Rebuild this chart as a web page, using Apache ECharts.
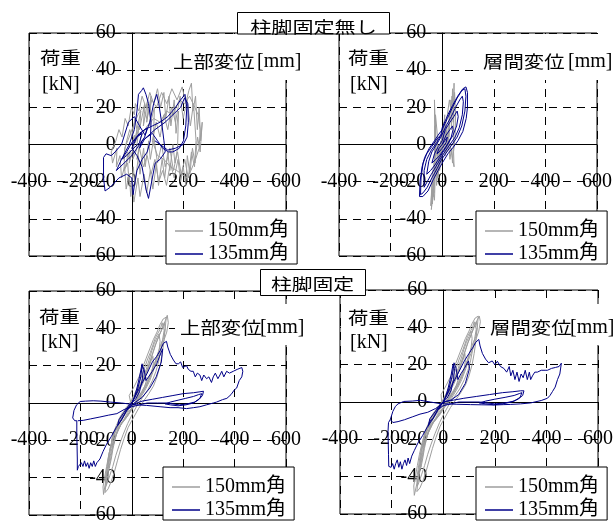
<!DOCTYPE html>
<html><head><meta charset="utf-8">
<script src="https://cdn.jsdelivr.net/npm/echarts@6/dist/echarts.min.js"></script>
<style>html,body{margin:0;padding:0;background:#fff}#c{width:613px;height:521px}</style>
</head><body><div id="c"></div>
<script>
// ---- data ----
const xMin = -400, xMax = 600, xStep = 200;
const yMin = -60, yMax = 60, yStep = 20;
const seriesNames = ['150mm角', '135mm角'];
const panelTitles = ['柱脚固定無し', '柱脚固定'];
const xAxisNames = ['上部変位', '層間変位'];
const xUnit = '[mm]';
const yAxisName = '荷重';
const yUnit = '[kN]';

// top-left: 柱脚固定無し / 上部変位
const p1Gray = [[0,0],[10,5],[6,-2],[20,8],[14,1],[28,10],[18,-3],[4,-8],[8,-1],[-10,-10],[-6,-3],[-24,-12],[-14,-4],[-34,-8],
[-20,2],[-8,8],[0,4],[12,14],[20,8],[35,18],[30,8],[50,22],[45,10],[62,24],[58,12],[75,26],[70,10],[88,20],[84,2],[72,-8],[66,2],[52,-12],[46,-2],[32,-16],[26,-6],[12,-22],[6,-12],[-4,-28],[-10,-16],[-22,-24],[-28,-12],[-40,-18],[-46,-6],[-60,-12],[-58,-2],[-75,-10],[-80,-4],[-62,2],[-50,8],[-38,4],[-26,14],[-14,10],[-2,20],[10,16],[14,22],
[28,18],[40,26],[55,20],[70,28],[85,22],[100,30],[112,20],[125,28],[132,14],[145,26],[152,10],[165,24],[172,6],[182,18],[178,-2],[168,-10],[160,0],[148,-14],[140,-4],[128,-18],[118,-8],[104,-22],[96,-10],[82,-24],[72,-14],[58,-26],[48,-16],[32,-28],[24,-18],[8,-31],[2,-20],[-10,-22],[-16,-10],[-30,-14],[-28,-2],[-10,4],[6,10],
[24,16],[42,20],[58,14],[78,24],[96,20],[116,28],[136,22],[156,30],[176,24],[196,31],[210,22],[222,29],[232,33],[238,18],[248,26],[255,8],[262,20],[268,2],[274,12],[266,-4],[256,4],[246,-10],[236,-2],[226,-16],[216,-6],[210,-22],[200,-12],[190,-20],[180,-8],[165,-18],[150,-10],[135,-22],[120,-14],[105,-20],[90,-8],[75,-16],[60,-6],[45,-12],[30,-2],[20,-8],[35,4],
[60,10],[85,14],[110,12],[135,18],[160,16],[185,24],[205,22],[225,26],[245,20],[258,16],[266,8],[262,-2],[248,-8],[230,-14],[212,-18],[195,-16],[175,-14],[150,-12],[125,-8],[100,-6],
[80,2],[95,12],[110,4],[125,16],[140,8],[155,20],[170,12],[188,26],[200,14],[215,24],[228,10],[240,22],[250,2],[244,-12],[232,-4],[220,-18],[206,-8],[192,-16],[178,-4],[162,-14],[148,-2],[130,-12],[116,0],[100,-10],[86,4]];
const p1Navy = [[0,0],[20,4],[40,6],[30,1],[0,-3],[-20,-6],[-40,-8],[-20,-4],[0,1],[30,6],[60,9],[50,4],[20,-2],[0,-6],[-30,-10],[-60,-14],[-40,-8],[-10,0],[10,8],[20,18],[26,27],[38,29],[45,30.5],[55,27],[65,22],[75,12],[72,2],[60,-4],[40,-8],[20,-14],[10,-22],[5,-27],[0,-18],[-20,-16],[-50,-18],[-84,-23],[-104,-25],[-110,-18],[-110,-7],[-100,-5],[-80,-6],[-65,-4],[-40,0],[-13,12],[10,15],[30,10],[52,5],[70,12],[85,22],[97,27],[105,22],[117,11],[125,2],[130,-4],[110,-8],[91,-10],[80,-18],[65,-29],[55,-24],[40,-12],[20,-6],[0,-2],[20,4],[50,8],[80,10],[110,12],[140,15],[170,20],[190,24],[207,27],[214,20],[210,10],[201,2],[185,-2],[160,-4],[143,-4],[120,-2],[100,2],[80,6],[60,4],[40,2],[30,-2],[50,3],[90,8],[130,12],[160,16],[190,20],[205,25],[218,22],[220,12],[215,4],[200,0],[170,-2],[140,-3],[110,0],[90,2]];

// top-right: 柱脚固定無し / 層間変位
const p2Gray = [[0,0],[4,8],[-2,-6],[6,12],[1,-4],[10,16],[-4,-10],[-1,6],[-10,-14],[-6,2],[-16,-18],[-10,-2],[-22,-22],[-18,4],[-26,16],[-24,-6],[-30,24],[-28,-10],[-34,-28],[-30,-14],[-38,-32],[-34,-20],[-42,-35],[-36,-24],[-30,-30],[-26,-12],[-18,-18],[-12,-4],[-4,-10],[4,2],[12,-6],[18,10],[22,-2],[28,18],[26,4],[34,24],[36,8],[40,30],[43,12],[46,33],[44,2],[40,-10],[36,-2],[30,-8],[24,2],[18,-4],[12,8],[6,-2],[0,4],[-8,-8],[-16,-2],[-24,-14],[-28,10],[-32,-26],[-38,-20],[-44,-33],[-38,-16],[-28,-6],[-14,-2],[-2,2],[10,8],[20,16],[28,24],[34,18],[38,26],[44,20],[48,28],[52,16],[50,4],[44,-4],[46,-12],[38,-6],[30,0],[22,6]];
const p2Navy = [[0,0],[10,2],[20,4],[15,1],[0,-2],[-12,-4],[-20,-5],[-12,-2],[0,0],
[15,5],[30,8],[40,10],[42,8],[35,4],[20,0],[5,-3],[-10,-6],[-25,-8],[-40,-10],[-30,-5],[-15,-1],[0,2],
[12,8],[30,12],[45,15],[58,18],[62,15],[56,10],[42,5],[25,1],[8,-3],[-10,-7],[-28,-11],[-45,-14],[-60,-16],[-52,-9],[-40,-4],[-22,0],[-5,4],
[15,10],[35,15],[52,20],[68,24],[78,26],[82,23],[78,16],[66,9],[50,4],[30,0],[10,-4],[-8,-8],[-25,-12],[-42,-16],[-58,-20],[-70,-23],[-76,-23],[-70,-14],[-60,-8],[-42,-3],[-22,1],[-5,5],
[0,9],[22,16],[40,21],[60,26],[80,30],[92,31],[98,28],[98,20],[93,14],[80,7],[61,2],[40,-2],[22,-5],[0,-10],[-16,-14],[-35,-19],[-55,-25],[-75,-28],[-88,-28],[-86,-20],[-78,-12],[-68,-7],[-50,-2],[-30,2],[-16,5],
[0,8],[20,14],[40,20],[58,25],[76,29],[88,30],[92,26],[88,18],[76,10],[58,4],[38,0],[18,-4],[-2,-8],[-20,-13],[-40,-18],[-58,-23],[-74,-26],[-84,-27],[-82,-18],[-74,-10],[-60,-5],[-40,-1],[-20,3],[0,6]];

// bottom-left: 柱脚固定 / 上部変位
const p3Gray = [[0,0],[10,2],[20,4],[30,7],[28,5],[20,2],[10,0],[0,-2],[-10,-3],[-20,-5],[-30,-6],[-28,-4],[-20,-2],[-10,-1],[0,1],
[10,3],[25,6],[38,9],[48,12],[55,14],[57,12],[50,9],[38,6],[25,3],[10,0],[-5,-2],[-20,-5],[-35,-8],[-48,-11],[-58,-14],[-56,-11],[-48,-8],[-35,-5],[-20,-3],[-5,0],
[10,3],[28,8],[45,12],[58,16],[68,20],[76,23],[82,25],[84,21],[78,17],[68,13],[55,9],[40,5],[22,1],[5,-2],[-15,-5],[-32,-9],[-48,-12],[-60,-16],[-70,-20],[-77,-24],[-79,-20],[-72,-16],[-60,-12],[-45,-8],[-28,-4],[-10,-1],
[8,3],[25,8],[42,13],[56,18],[67,23],[78,28],[88,32],[98,35],[106,37],[110,33],[106,28],[96,24],[85,19],[72,14],[56,9],[38,5],[18,1],[0,-3],[-20,-7],[-40,-11],[-56,-15],[-66,-20],[-74,-25],[-80,-30],[-88,-35],[-92,-33],[-88,-27],[-80,-22],[-68,-16],[-52,-11],[-34,-6],[-14,-2],
[6,2],[24,7],[42,12],[58,17],[70,22],[82,27],[94,32],[106,36],[116,39],[126,43],[130,40],[124,35],[112,31],[100,26],[88,21],[74,16],[58,11],[40,6],[20,2],[0,-3],[-22,-8],[-44,-12],[-60,-17],[-72,-22],[-80,-28],[-88,-34],[-94,-39],[-100,-44],[-104,-41],[-98,-36],[-92,-30],[-84,-24],[-72,-18],[-56,-12],[-36,-7],[-14,-2],
[8,3],[28,8],[48,14],[64,19],[78,25],[92,31],[106,36],[118,40],[130,44],[138,47],[142,43],[136,38],[126,34],[114,29],[100,24],[86,18],[70,12],[52,7],[30,2],[8,-2],[-16,-7],[-40,-11],[-58,-16],[-72,-21],[-82,-27],[-90,-33],[-98,-39],[-104,-44],[-110,-49],[-112,-45],[-106,-40],[-98,-34],[-90,-28],[-80,-22],[-66,-16],[-48,-10],[-26,-5],[-4,0],
[-10,4],[10,9],[28,14],[42,19],[56,24],[70,29],[84,34],[98,38],[110,42],[122,45],[134,46],[130,40],[124,32],[118,26],[110,20],[98,14],[84,9],[66,5],[46,1],[26,-3],[6,-8],[-14,-13],[-30,-19],[-44,-25],[-56,-31],[-68,-37],[-80,-42],[-92,-46],[-104,-48],
[-100,-42],[-95,-35],[-88,-30],[-82,-24],[-76,-20],[-60,-14],[-40,-8],[-20,-3],[0,2],[18,7],[34,13],[48,18],[60,23],[72,27],[82,31],[92,35],[100,37],[112,40],[118,43],[124,44],[126,39],[120,34],[112,28],[104,22],[94,17],[80,12],[62,7],[42,3],[22,-1],[2,-6],[-16,-11],[-34,-17],[-50,-23],[-62,-28],[-74,-34],[-86,-39],[-96,-43],[-102,-45]];
const p3Navy = [[0,0],[10,3],[20,8],[30,14],[40,21],[45,18],[40,12],[30,6],[15,2],[0,0],[-10,-2],[-20,-4],[-27,-5],[-20,-3],[0,0],
[20,6],[35,14],[40,20],[48,18],[55,12],[65,14],[80,17],[97,21],[108,25],[120,29],[115,22],[95,14],[70,8],[40,3],[10,0],[-20,-4],[-40,-9],[-47,-9],[-55,-12],[-50,-9],[-30,-5],[-10,-1],[0,0],
[30,8],[60,16],[80,22],[97,25],[110,28],[123,32],[135,33],[140,30],[150,26],[162,23],[172,21],[181,21],[190,22],[198,19],[205,20],[213,20],[220,18],[230,17],[239,17],[247,14],[255,16],[265,15],[272,12],[280,15],[291,13],[300,14],[310,11],[317,14],[325,16],[330,17],[335,13],[343,15],[350,17],[358,14],[369,17],[380,16],[395,17],[410,18],[428,19],[432,17],[428,14],[418,12],[408,8],[399,7],[386,4.5],[370,2.5],[353,1.8],[330,0.5],[317,0],[290,-1],[265,-2],[240,-2.5],[213,-3],[180,-2.5],[149,-2.5],[110,-2],[58,-1.3],[20,-1],[0,-0.7],[-40,0],[-84,0.5],[-120,1],[-150,1.2],[-180,1],[-201,0.8],[-215,-1],[-225,-4],[-230,-8],[-222,-9.5],[-214,-9.5],[-214,-16],[-213,-23],[-212,-30],[-212,-36],[-208,-34],[-202,-35],[-196,-32],[-190,-34],[-184,-31],[-178,-34],[-172,-32],[-166,-35],[-160,-32],[-154,-34],[-148,-31],[-142,-34],[-136,-32],[-130,-33],[-124,-30],[-112,-26],[-98,-22],[-80,-18],[-60,-13],[-40,-9],[-20,-4],[0,-1],
[40,1],[80,2],[120,3],[160,4],[200,5],[240,5.5],[265,6],[279,6.3],[275,4],[262,2],[240,0],[210,-1],[180,-1.5],[150,-1],[130,-0.5],[150,0.5],[180,1.5],[210,2.5],[240,3.5],[260,4.5],[272,5],[265,2.5],[245,0.5],[215,-0.5],[185,-1],[160,-0.5],[140,0],[100,0],[60,0],[30,-1],[0,-2],
[-30,-3.5],[-58,-5.7],[-90,-6.5],[-124,-7.5],[-160,-8.5],[-189,-9.3],[-210,-9.5]];

// bottom-right: 柱脚固定 / 層間変位
const p4Gray = [[0,0],[10,2],[22,5],[32,7],[29,5],[20,2],[9,0],[0,-2],[-11,-3],[-21,-5],[-31,-6],[-28,-4],[-19,-2],[-9,-1],[0,1],
[11,3],[26,6],[39,9],[49,12],[56,14],[58,12],[51,9],[39,6],[26,3],[11,0],[-4,-2],[-19,-5],[-34,-8],[-47,-11],[-57,-14],[-55,-11],[-47,-8],[-34,-5],[-19,-3],[-4,0],
[11,3],[29,8],[46,12],[60,16],[70,20],[78,23],[84,26],[86,22],[80,17],[70,13],[56,9],[41,5],[23,1],[6,-2],[-14,-5],[-31,-9],[-47,-12],[-59,-16],[-69,-20],[-76,-24],[-78,-20],[-71,-16],[-59,-12],[-44,-8],[-27,-4],[-9,-1],
[9,3],[26,8],[44,13],[58,18],[69,23],[80,28],[90,32],[100,35],[108,38],[112,34],[108,29],[98,24],[87,19],[74,14],[58,9],[40,5],[19,1],[1,-3],[-19,-7],[-39,-11],[-55,-15],[-65,-20],[-73,-25],[-79,-30],[-86,-35],[-90,-33],[-86,-27],[-78,-22],[-67,-16],[-51,-11],[-33,-6],[-13,-2],
[7,2],[25,7],[44,12],[60,17],[72,22],[84,27],[96,32],[108,36],[118,40],[128,43],[132,40],[126,35],[114,31],[102,26],[90,21],[76,16],[60,11],[42,6],[21,2],[1,-3],[-21,-8],[-43,-12],[-59,-17],[-71,-22],[-79,-28],[-87,-34],[-93,-39],[-99,-44],[-103,-41],[-97,-36],[-91,-30],[-83,-24],[-71,-18],[-55,-12],[-35,-7],[-13,-2],
[9,3],[29,8],[50,14],[66,19],[80,25],[94,31],[108,36],[120,40],[132,44],[140,46],[144,43],[138,38],[128,34],[116,29],[102,24],[88,18],[72,12],[54,7],[32,2],[10,-2],[-14,-7],[-38,-11],[-56,-16],[-70,-21],[-80,-27],[-88,-33],[-96,-39],[-104,-45],[-112,-50],[-114,-45],[-108,-40],[-100,-34],[-92,-28],[-82,-22],[-68,-16],[-50,-10],[-28,-5],[-6,0],
[-8,4],[12,9],[30,14],[44,19],[58,24],[72,29],[86,34],[100,38],[112,42],[124,45],[136,46],[132,40],[126,32],[120,26],[112,20],[100,14],[86,9],[68,5],[48,1],[28,-3],[8,-8],[-12,-13],[-28,-19],[-42,-25],[-54,-31],[-66,-37],[-78,-42],[-90,-46],[-102,-48],
[-98,-42],[-93,-35],[-86,-30],[-80,-24],[-74,-20],[-58,-14],[-38,-8],[-18,-3],[2,2],[20,7],[36,13],[50,18],[62,23],[74,27],[84,31],[94,35],[102,37],[114,40],[120,43],[126,44],[128,39],[122,34],[114,28],[106,22],[96,17],[82,12],[64,7],[44,3],[24,-1],[4,-6],[-14,-11],[-32,-17],[-48,-23],[-60,-28],[-72,-34],[-84,-39],[-94,-43],[-100,-45]];
const p4Navy = [[0,0],[10,3],[20,8],[30,14],[38,20],[44,18],[40,12],[30,6],[15,2],[0,0],[-10,-2],[-20,-4],[-27,-5],[-20,-3],[0,0],
[20,6],[35,14],[42,21],[50,18],[57,12],[68,15],[82,18],[98,22],[102,18],[86,10],[60,4],[30,1],[0,0],[-20,-4],[-40,-9],[-50,-10],[-58,-13],[-52,-9],[-30,-5],[-10,-1],[0,0],
[30,8],[60,16],[82,22],[100,26],[114,29],[126,32],[138,33.5],[143,30],[152,26],[164,23],[176,21],[190,22],[200,20],[210,21.8],[222,19],[235,18],[246,16],[256,19],[262,14],[270,17],[278,12],[286,16],[294,11],[302,15],[310,13],[318,17],[326,12],[334,16],[339,12],[346,14],[355,16],[365,16],[380,17],[395,17],[404,17],[420,18],[435,18.5],[449,19],[458,20.8],[452,15],[443,12],[434,8],[424,5.7],[414,3.5],[404,2],[380,0.8],[339,-0.5],[300,-1],[260,-1.3],[235,-1.4],[200,-1.6],[150,-1.5],[106,-1.4],[50,-1.2],[-11,-0.9],[-50,0],[-88,0.9],[-120,0.5],[-153,0.3],[-175,-1],[-185,-2.3],[-195,-5],[-205,-9.4],[-195,-11],[-175,-10.5],[-150,-9.5],[-120,-8],[-90,-6.5],[-60,-5.5],[-30,-3.5],[-12,-2],[0,0],
[40,1],[80,2],[130,3],[180,4],[230,5],[270,5.5],[300,6],[313,6],[308,3.5],[290,1.5],[265,0],[230,-1],[195,-1.5],[165,-1],[140,-0.5],[165,0.5],[200,1.5],[240,2.5],[275,3.5],[295,4.5],[305,5],[298,2.5],[275,0.5],[240,-0.5],[200,-1],[170,-0.5],[140,0],[100,0],[60,0],[30,-1],[0,-2],
[-20,-4],[-40,-9],[-60,-13],[-80,-18],[-98,-22],[-112,-26],[-122,-29],[-130,-33],[-136,-30],[-142,-34],[-148,-31],[-154,-33],[-160,-36],[-166,-32],[-172,-35],[-178,-31],[-184,-33],[-190,-36],[-196,-33],[-202,-35],[-208,-36],[-211,-34.5],[-212,-28],[-213,-22],[-214,-16],[-212,-11],[-205,-9.4]];

const panelGray = [p1Gray, p2Gray, p3Gray, p4Gray];
const panelNavy = [p1Navy, p2Navy, p3Navy, p4Navy];

// ---- layout / style ----
const GRAY = '#9e9e9e', NAVY = '#000088';
const SERIF = "'Liberation Serif','Times New Roman',serif";
const CJK = "'Noto Sans CJK JP',sans-serif";
const grids = [
  {left: 29, top: 33, width: 257, height: 223},
  {left: 339, top: 33, width: 258, height: 223},
  {left: 29, top: 291, width: 257, height: 224},
  {left: 340, top: 290, width: 258, height: 224}
];
const legendPos = [
  {left: 166, top: 211}, {left: 476, top: 211}, {left: 163, top: 467}, {left: 476, top: 467}
];
const dash = [8, 6];
// axes cross at value 0: place the axis lines (and their labels) there via offset
const xZeroFrac = (0 - xMin) / (xMax - xMin);
const yZeroFrac = (0 - yMin) / (yMax - yMin);

const option = {
  animation: false,
  backgroundColor: '#fff',
  grid: grids.map(g => Object.assign({show: true, borderColor: '#000', borderWidth: 1, backgroundColor: 'transparent',
    containLabel: false, outerBoundsMode: 'none'}, g)),
  xAxis: grids.map((g, i) => ({
    gridIndex: i, type: 'value', min: xMin, max: xMax, interval: xStep,
    position: 'bottom', offset: -(g.height * yZeroFrac),
    axisLine: {onZero: false, lineStyle: {color: '#000', width: 1}},
    axisTick: {show: false},
    axisLabel: {margin: 27, fontSize: 20, fontFamily: SERIF, color: '#000', hideOverlap: false},
    splitLine: {show: true, lineStyle: {color: '#000', width: 1, type: dash}}
  })),
  yAxis: grids.map((g, i) => ({
    gridIndex: i, type: 'value', min: yMin, max: yMax, interval: yStep,
    position: 'left', offset: -(g.width * xZeroFrac),
    axisLine: {onZero: false, lineStyle: {color: '#000', width: 1}},
    axisTick: {show: false},
    axisLabel: {margin: 16, fontSize: 20, fontFamily: SERIF, color: '#000', hideOverlap: false},
    splitLine: {show: true, lineStyle: {color: '#000', width: 1, type: dash}}
  })),
  legend: legendPos.map(p => ({
    left: p.left, top: p.top, orient: 'vertical', data: seriesNames, icon: 'rect',
    itemWidth: 28, itemHeight: 1.5, itemGap: 3, padding: [10, 8, 0, 9],
    backgroundColor: '#fff', borderColor: '#000', borderWidth: 1, borderRadius: 0,
    selectedMode: false, z: 6,
    textStyle: {fontSize: 20, fontFamily: SERIF + ",'Noto Sans CJK JP'", color: '#000', lineHeight: 20}
  })),
  series: []
};
for (let i = 0; i < 4; i++) {
  option.series.push({type: 'line', name: seriesNames[0], xAxisIndex: i, yAxisIndex: i, data: panelGray[i],
    symbol: 'none', showSymbol: false, clip: true, lineStyle: {width: 1, color: GRAY}, itemStyle: {color: GRAY}, z: 2});
  option.series.push({type: 'line', name: seriesNames[1], xAxisIndex: i, yAxisIndex: i, data: panelNavy[i],
    symbol: 'none', showSymbol: false, clip: true, lineStyle: {width: 1, color: NAVY}, itemStyle: {color: NAVY}, z: 3});
}

function txt(x, y, text, font, align, sx, z) {
  return {type: 'text', x: x, y: y, scaleX: sx || 1, z: z || 11,
    style: {text: text, x: 0, y: 0, font: font, fill: '#000', textAlign: align, align: align,
      textVerticalAlign: 'middle', verticalAlign: 'middle'}};
}
function box(x, y, w, h, stroke, z) {
  return {type: 'rect', z: z || 10, shape: {x: x, y: y, width: w, height: h},
    style: {fill: '#fff', stroke: stroke ? '#000' : null, lineWidth: stroke ? 1 : 0}};
}
const labelSpec = [
  {kb: [30, 34, 62, 70], xb: [170, 34, 136, 46], ny: [40, 57.5], ky: [42, 85], xl: [173, 61.5], mm: 257, name: 0},
  {kb: [340, 34, 56, 70], xb: [478, 34, 135, 46], ny: [348, 57.5], ky: [350, 85], xl: [483, 61.5], mm: 568, name: 1},
  {kb: [30, 292, 56, 70], xb: [175, 304, 131, 41], ny: [39, 317], ky: [41, 343], xl: [180, 328], mm: 260, name: 0},
  {kb: [341, 291, 55, 71], xb: [485, 304, 128, 41], ny: [348, 317.5], ky: [350, 343], xl: [490, 328], mm: 570, name: 1}
];
const graphics = [];
labelSpec.forEach(s => {
  graphics.push(box(s.kb[0], s.kb[1], s.kb[2], s.kb[3], false, 10));
  graphics.push(box(s.xb[0], s.xb[1], s.xb[2], s.xb[3], false, 10));
  graphics.push(txt(s.ny[0], s.ny[1], yAxisName, '17px ' + CJK, 'left', 1.2));
  graphics.push(txt(s.ky[0], s.ky[1], yUnit, '20px ' + SERIF, 'left', 1));
  graphics.push(txt(s.xl[0], s.xl[1], xAxisNames[s.name], '17px ' + CJK, 'left', 1.2));
  graphics.push(txt(s.mm, s.xl[1], xUnit, '20px ' + SERIF, 'left', 1));
});
// panel titles
graphics.push(box(237.5, 12.5, 152, 21.5, true, 12));
graphics.push(txt(313.5, 26.5, panelTitles[0], '16px ' + CJK, 'center', 1.32, 13));
graphics.push(box(260.5, 269.5, 105, 26, true, 12));
graphics.push(txt(312.5, 284, panelTitles[1], '16px ' + CJK, 'center', 1.3, 13));
option.graphic = {elements: graphics};

const chart = echarts.init(document.getElementById('c'));
chart.setOption(option);
</script>
</body></html>
